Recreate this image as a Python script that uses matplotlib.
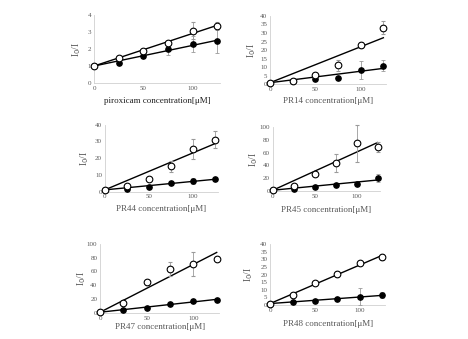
import numpy as np
import matplotlib
matplotlib.use("Agg")
import matplotlib.pyplot as plt

plt.rcParams["font.family"] = ["Liberation Serif", "DejaVu Serif"]

conc = [0, 25, 50, 75, 100, 125]

names = ["piroxicam", "PR14", "PR44", "PR45", "PR47", "PR48"]

open_vals = [
    [1, 1.46, 1.91, 2.34, 3.06, 3.36],
    [1, 2.0, 5.3, 11.1, 23.0, 33.2],
    [1, 3.2, 7.4, 15.0, 25.4, 31.0],
    [1, 8.4, 27.0, 44.0, 75.0, 69.5],
    [1, 14.4, 44.0, 63.5, 70.7, 78.0],
    [1, 6.6, 14.2, 20.3, 27.3, 31.7],
]
open_err = [
    [0, 0.05, 0.1, 0.15, 0.5, 0.2],
    [0, 0.5, 1, 3, 2, 4],
    [0, 0.5, 1, 3, 6, 5],
    [0, 2, 3, 14, 29, 8],
    [0, 3, 3, 10, 18, 3],
    [0, 1, 1, 2, 1, 2],
]
filled_vals = [
    [1, 1.17, 1.56, 2.0, 2.3, 2.44],
    [1, 2.0, 3.0, 3.5, 8.4, 11.0],
    [1, 1.6, 2.8, 5.0, 6.4, 7.4],
    [1, 3.7, 6.8, 9.5, 11.6, 20.0],
    [1, 4.0, 7.7, 13.0, 16.8, 18.8],
    [1, 2.0, 2.8, 3.9, 5.5, 6.6],
]
filled_err = [
    [0, 0.1, 0.1, 0.35, 0.45, 0.65],
    [0, 0.3, 0.5, 1, 5.5, 3],
    [0, 0.3, 0.5, 1, 2, 1],
    [0, 1, 1, 2, 2, 6],
    [0, 1, 1, 1, 2, 1],
    [0, 0.5, 0.5, 0.5, 5.5, 2],
]
y_max = [4, 40, 40, 100, 100, 40]
y_step = [1, 5, 10, 20, 20, 5]

# axes boxes [left, bottom, width, height] in figure fractions
boxes = [
    [0.201, 0.755, 0.270, 0.201],
    [0.577, 0.751, 0.248, 0.202],
    [0.224, 0.435, 0.241, 0.197],
    [0.583, 0.437, 0.229, 0.187],
    [0.214, 0.077, 0.255, 0.204],
    [0.577, 0.100, 0.246, 0.180],
]
ylabel_x = [-0.09, -0.10, -0.12, -0.12, -0.10, -0.13]
xlabel_y = [-0.21, -0.19, -0.20, -0.24, -0.14, -0.25]

fig = plt.figure(figsize=(4.68, 3.39), dpi=100)
x = np.array(conc, dtype=float)
xs = np.array([0, 125.0])

for i in range(6):
    ax = fig.add_axes(boxes[i])
    yo = np.array(open_vals[i])
    yf = np.array(filled_vals[i])

    # Stern-Volmer fit forced through I0/I = 1
    for y in (yo, yf):
        k = np.sum(x * (y - 1)) / np.sum(x * x)
        ax.plot(xs, 1 + k * xs, color="black", linewidth=1.0, zorder=2)

    ax.errorbar(x, yf, yerr=filled_err[i], fmt="o", color="black",
                markersize=3.8, ecolor="#9a9a9a", elinewidth=0.6,
                capsize=1.2, capthick=0.6, zorder=3, clip_on=False)
    ax.errorbar(x, yo, yerr=open_err[i], fmt="o", markerfacecolor="white",
                markeredgecolor="black", markeredgewidth=0.8, markersize=4.8,
                ecolor="#9a9a9a", elinewidth=0.6, capsize=1.2, capthick=0.6,
                zorder=4, clip_on=False)

    ax.set_xlim(0, 128)
    ax.set_ylim(0, y_max[i])
    ax.set_xticks([0, 50, 100])
    ax.set_yticks(np.arange(0, y_max[i] + 0.1, y_step[i]))
    ax.tick_params(length=0, labelsize=5, labelcolor="#595959", pad=2)
    for s in ("top", "right"):
        ax.spines[s].set_visible(False)
    for s in ("left", "bottom"):
        ax.spines[s].set_color("#d0d0d0")
        ax.spines[s].set_linewidth(0.6)

    lab_col = "#222222" if i == 0 else "#595959"
    ax.set_xlabel(names[i] + " concentration[\u03bcM]", fontsize=6.5,
                  color=lab_col)
    ax.xaxis.set_label_coords(0.5, xlabel_y[i])
    ax.set_ylabel("I$_0$/I", fontsize=7, color="#595959")
    ax.yaxis.set_label_coords(ylabel_x[i], 0.5)

fig.savefig("out.png", dpi=100)
